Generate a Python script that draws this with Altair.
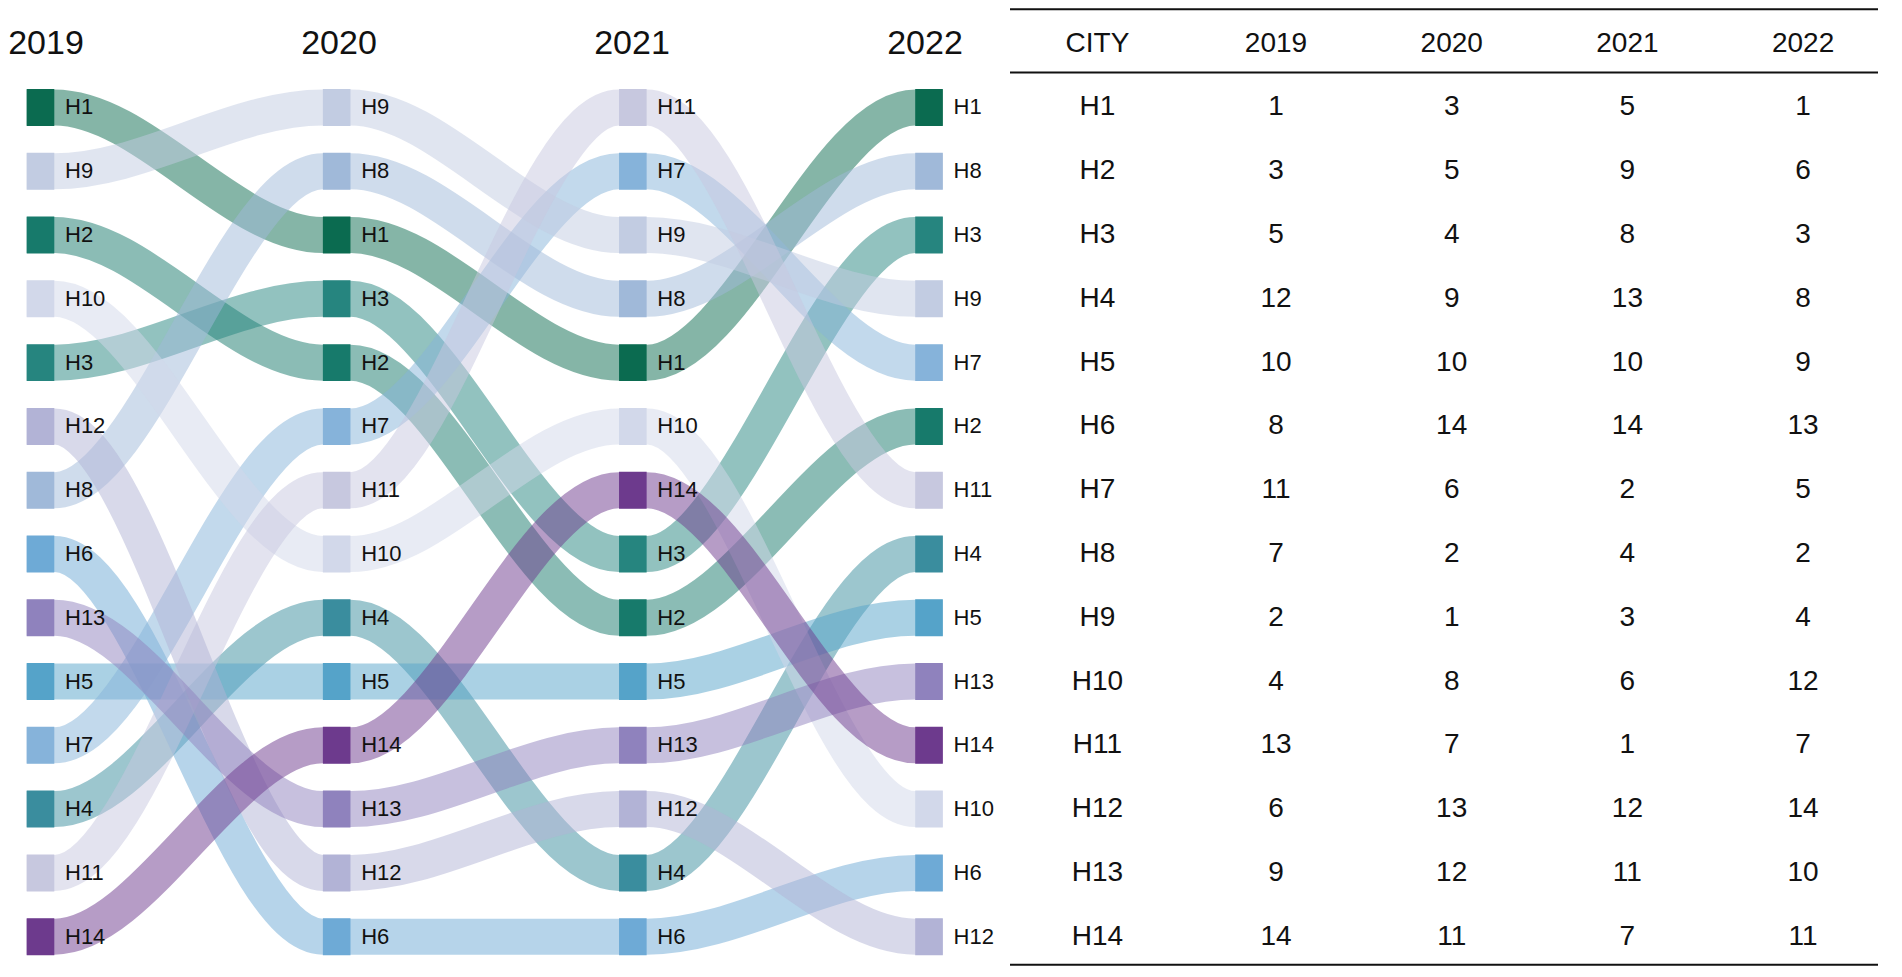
import altair as alt
import pandas as pd

# ---------------- data ----------------
cities = ["H1", "H2", "H3", "H4", "H5", "H6", "H7", "H8", "H9", "H10", "H11", "H12", "H13", "H14"]
years = ["2019", "2020", "2021", "2022"]
rank_2019 = [1, 3, 5, 12, 10, 8, 11, 7, 2, 4, 13, 6, 9, 14]
rank_2020 = [3, 5, 4, 9, 10, 14, 6, 2, 1, 8, 7, 13, 12, 11]
rank_2021 = [5, 9, 8, 13, 10, 14, 2, 4, 3, 6, 1, 12, 11, 7]
rank_2022 = [1, 6, 3, 8, 9, 13, 5, 2, 4, 12, 7, 14, 10, 11]
city_colors = ["#0b6b50", "#177a6b", "#26857f", "#3a8d9e", "#55a3c9", "#6eaad6",
               "#86b3da", "#a0b9d9", "#c2cce2", "#d2d8ea", "#c7c8df", "#b2b3d6",
               "#8f82bd", "#6d3a8d"]
header = ["CITY"] + years

ranks = [rank_2019, rank_2020, rank_2021, rank_2022]

# ---------------- layout / style constants ----------------
W, H = 1872, 958
COL0, COLSTEP = 32.5, 296.17      # flow columns (px inside the plot)
TITLE0, TITLESTEP = 38.0, 293.0   # year titles above the flow columns
TAB0, TABFIRST, TABSTEP = 1089.5, 178.5, 175.7   # table columns
HALF = 13.8                       # half node width (px)
HH = 0.29                         # half node height (rank units)
GAP = 10.7                        # node-label gap (px)
FONT_L = "Liberation Sans Narrow, Liberation Sans, Arial, sans-serif"
FONT_T = "Liberation Sans, Arial, sans-serif"

# ---------------- tables ----------------
node_rows = []
for yi, (yr, rk) in enumerate(zip(years, ranks)):
    for c, r in zip(cities, rk):
        node_rows.append({"city": c, "year": yr, "yi": yi, "rank": r})
nodes = pd.DataFrame(node_rows)

band_df = pd.concat([nodes.assign(side=-1), nodes.assign(side=1)], ignore_index=True)

year_df = pd.DataFrame({"year": years, "yi": list(range(len(years)))})

tab_rows = []
for ci, h in enumerate(header):
    tab_rows.append({"col": ci, "row": 0, "label": h})
for k, c in enumerate(cities):
    tab_rows.append({"col": 0, "row": k + 1, "label": c})
    for yi, rk in enumerate(ranks):
        tab_rows.append({"col": yi + 1, "row": k + 1, "label": str(rk[k])})
tab_df = pd.DataFrame(tab_rows)

line_pos = pd.DataFrame({"pos": [-0.54, 0.45, 14.44]})

# ---------------- scales ----------------
xs = alt.Scale(domain=[0, W], nice=False, zero=False)
ys = alt.Scale(domain=[-0.56, 14.46], reverse=True, nice=False, zero=False)
col_scale = alt.Scale(domain=cities, range=city_colors)

colx = f"{COL0} + {COLSTEP} * datum.yi"

# ---------------- left: ranking flow ----------------
bands = alt.Chart(band_df).transform_calculate(
    xp=f"{colx} + datum.side * {HALF}"
).mark_line(interpolate="monotone", strokeWidth=36, opacity=0.5,
            strokeCap="butt", strokeJoin="round").encode(
    x=alt.X("xp:Q", scale=xs, axis=None),
    y=alt.Y("rank:Q", scale=ys, axis=None),
    color=alt.Color("city:N", scale=col_scale, legend=None),
    order="xp:Q",
)

squares = alt.Chart(nodes).transform_calculate(
    x0=f"{colx} - {HALF}", x1=f"{colx} + {HALF}",
    y0=f"datum.rank - {HH}", y1=f"datum.rank + {HH}",
).mark_rect().encode(
    x=alt.X("x0:Q", scale=xs, axis=None),
    x2="x1:Q",
    y=alt.Y("y0:Q", scale=ys, axis=None),
    y2="y1:Q",
    color=alt.Color("city:N", scale=col_scale, legend=None),
)

labels = alt.Chart(nodes).transform_calculate(
    xl=f"{colx} + {HALF + GAP}"
).mark_text(align="left", baseline="middle", font=FONT_L, fontSize=22, color="#111111").encode(
    x=alt.X("xl:Q", scale=xs, axis=None),
    y=alt.Y("rank:Q", scale=ys, axis=None),
    text="city:N",
)

year_titles = alt.Chart(year_df).transform_calculate(
    xc=f"{TITLE0} + {TITLESTEP} * datum.yi", yc="0"
).mark_text(
    align="center", baseline="middle", font=FONT_L, fontSize=34, color="#111111"
).encode(
    x=alt.X("xc:Q", scale=xs, axis=None),
    y=alt.Y("yc:Q", scale=ys, axis=None),
    text="year:N",
)

# ---------------- right: table ----------------
tab_text = alt.Chart(tab_df).transform_calculate(
    xt=f"datum.col == 0 ? {TAB0} : {TAB0 + TABFIRST} + {TABSTEP} * (datum.col - 1)"
).mark_text(
    align="center", baseline="middle", font=FONT_T, fontSize=28, color="#111111"
).encode(
    x=alt.X("xt:Q", scale=xs, axis=None),
    y=alt.Y("row:Q", scale=ys, axis=None),
    text="label:N",
)

tab_lines = alt.Chart(line_pos).transform_calculate(
    xa="1002", xb=f"{W - 2}"
).mark_rule(color="#111111", strokeWidth=2).encode(
    x=alt.X("xa:Q", scale=xs, axis=None),
    x2="xb:Q",
    y=alt.Y("pos:Q", scale=ys, axis=None),
)

chart = alt.layer(bands, squares, labels, year_titles, tab_text, tab_lines).properties(
    width=W, height=H, padding=0, autosize="none"
).configure_view(strokeWidth=0)

chart.save("out.html", embed_options={"renderer": "svg", "actions": False})
